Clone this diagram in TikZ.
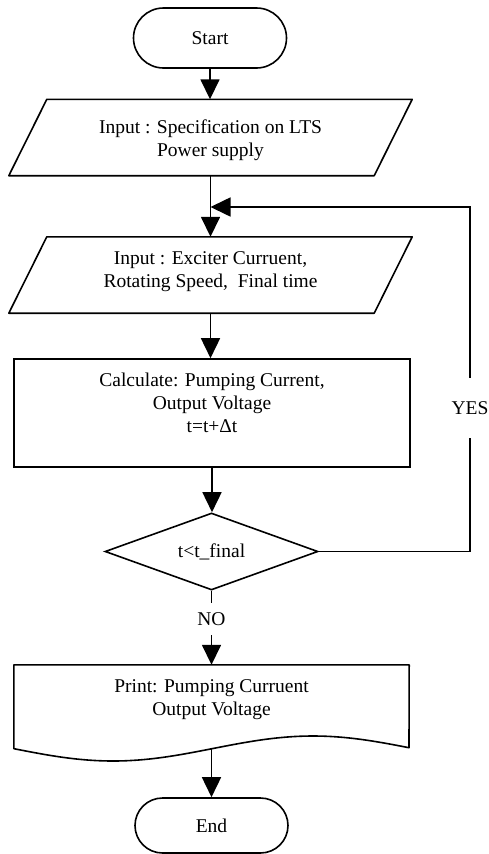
\documentclass[tikz,border=0pt]{standalone}
\usepackage{fontspec}
\setmainfont{Liberation Serif}
\usetikzlibrary{arrows.meta,shapes.geometric}

\begin{document}
\begin{tikzpicture}[x=1pt,y=-1pt,
  every node/.style={font=\fontsize{19.5}{23}\selectfont, inner sep=0pt},
  line/.style={line width=1.6pt},
  flow/.style={line, -{Triangle[length=20pt,width=19pt]}},
  terminal/.style={draw, line, rectangle, minimum width=153pt},
  iobox/.style={rectangle, minimum width=365pt, minimum height=76pt},
  procbox/.style={draw, line, rectangle, minimum width=396pt, minimum height=108pt},
  decision/.style={draw, line, diamond, aspect=2.77, minimum width=213pt, minimum height=77pt},
  txt/.style={align=center}
]
\fill[white] (0,0) rectangle (488,854);
\useasboundingbox (0,0) rectangle (488,854);

% terminals, input boxes, process and decision
\node[terminal, rounded corners=30pt, minimum height=60pt] (start) at (210,38) {Start};

\node[iobox] (in1) at (210.5,137.5) {};
\draw[line, line join=round] ([xshift=19pt]in1.north west) -- ([xshift=19pt]in1.north east)
  -- ([xshift=-19pt]in1.south east) -- ([xshift=-19pt]in1.south west) -- cycle;
\node[txt] (in1t) at ([yshift=-2.5pt]in1.center) {Input : Specification on LTS\\Power supply};

\node[iobox] (in2) at (210.5,275) {};
\draw[line, line join=round] ([xshift=19pt]in2.north west) -- ([xshift=19pt]in2.north east)
  -- ([xshift=-19pt]in2.south east) -- ([xshift=-19pt]in2.south west) -- cycle;
\node[txt] (in2t) at ([yshift=3pt]in2.center) {Input : Exciter Curruent,\\Rotating Speed,\ \ Final time};

\node[procbox] (calc) at (212,413) {};
\node[txt] (calct) at ([yshift=10.5pt]calc.center) {Calculate: Pumping Current,\\Output Voltage\\t=t+Δt};
\node[decision] (dec) at (211.5,551.5) {t<t\_final};
\node (yes) at (470,408) [minimum height=60pt] {YES};
\node (no) at (211.5,619) [minimum height=32pt] {NO};

% document shape for the printed result
\node[minimum width=395pt, minimum height=83pt] (prt) at (211.5,706.5) {};
\draw[line, line join=round] (prt.north east) -- (prt.north west) -- (prt.south west)
  -- plot[domain=14:409, samples=80] (\x,{748.5-12.5*sin(0.9*(\x-213))}) -- cycle;
\node[txt] (prtt) at ([yshift=6.5pt]prt.center) {Print: Pumping Curruent\\Output Voltage};

\node[terminal, rounded corners=27.5pt, minimum height=55pt] (finish) at (211.5,825.5) {End};

% connectors
\coordinate (join) at (in1.south |- 0,207);
\draw[flow] (start.south) -- (start.south |- in1.north);
\draw[flow] (in1.south) -- (in2.north);
\draw[flow] (in2.south) -- (in2.south |- calc.north);
\draw[flow] (calc.south) -- (calc.south |- dec.north);
\draw[line] (dec.east) -| (yes.south);
\draw[flow] (yes.north) |- (join);
\draw[line] (dec.south) -- (no.north);
\draw[flow] (no.south) -- (no.south |- prt.north);
\draw[flow] (prt.south) -- (finish.north);
\end{tikzpicture}
\end{document}
